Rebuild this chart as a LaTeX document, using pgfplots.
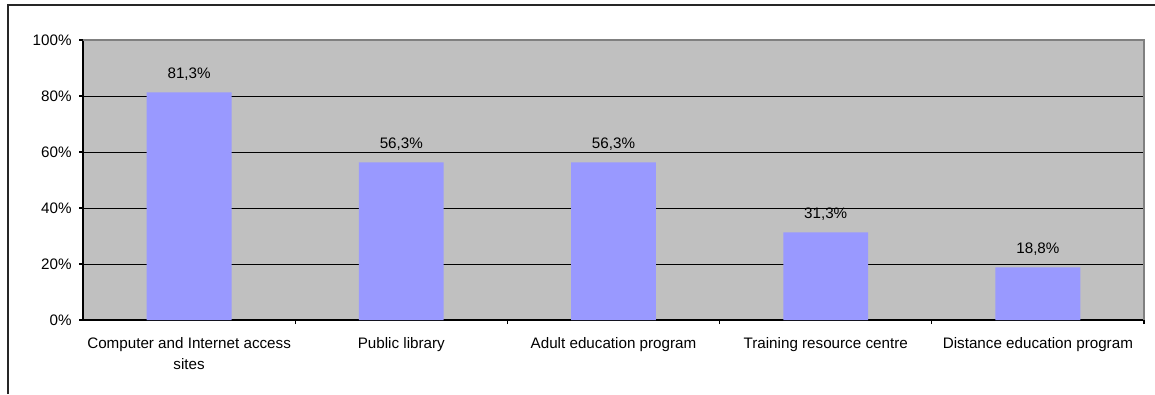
\documentclass[border=0pt]{standalone}
\usepackage{pgfplots}
\pgfplotsset{compat=1.18}
\usepackage{fontspec}
\setmainfont{Liberation Sans}
\definecolor{barblue}{HTML}{9999FF}
\definecolor{plotgray}{HTML}{C0C0C0}
\definecolor{bordergray}{HTML}{808080}
\begin{document}
\begin{tikzpicture}
\path[use as bounding box] (0,0) rectangle (866.25pt,295.5pt);
\draw[line width=1.1pt, black!85] (6pt,0pt) -- (6pt,291.75pt) -- (866.25pt,291.75pt);
\begin{axis}[
  at={(62.25pt,55.5pt)}, anchor=south west,
  scale only axis, width=795.75pt, height=210pt,
  axis background/.style={fill=plotgray},
  axis x line*=bottom, axis y line*=left,
  axis line style={black, line width=0.9pt},
  xmin=-0.5, xmax=4.5, ymin=0, ymax=100,
  ytick={0,20,40,60,80,100},
  yticklabels={0\%,20\%,40\%,60\%,80\%,100\%},
  xtick={0.5,1.5,2.5,3.5,4.5},
  xticklabels={},
  extra x ticks={0,1,2,3,4},
  extra x tick labels={Computer and Internet access\\sites, Public library, Adult education program, Training resource centre, Distance education program},
  extra x tick style={major tick length=0pt, grid=none},
  tick align=outside, major tick length=3pt,
  tick style={black, line width=0.8pt},
  ymajorgrids, grid style={black, line width=0.7pt},
  tick label style={font=\fontsize{11.4}{15.75}\selectfont},
  xticklabel style={align=center, yshift=-9.5pt},
  yticklabel style={xshift=-2pt},
  /pgf/number format/assume math mode=true,
  ybar, bar width=0.4,
  point meta=explicit symbolic,
  nodes near coords,
  every node near coord/.append style={font=\fontsize{11.4}{13}\selectfont, yshift=5.5pt, black},
  clip=false,
]
\addplot[fill=barblue, draw=none] coordinates {
  (0,81.3) [81,3\%]
  (1,56.3) [56,3\%]
  (2,56.3) [56,3\%]
  (3,31.3) [31,3\%]
  (4,18.8) [18,8\%]
};
\draw[bordergray, line width=1.5pt] (rel axis cs:0,1) -- (rel axis cs:1,1) -- (rel axis cs:1,0);
\end{axis}
\end{tikzpicture}
\end{document}
